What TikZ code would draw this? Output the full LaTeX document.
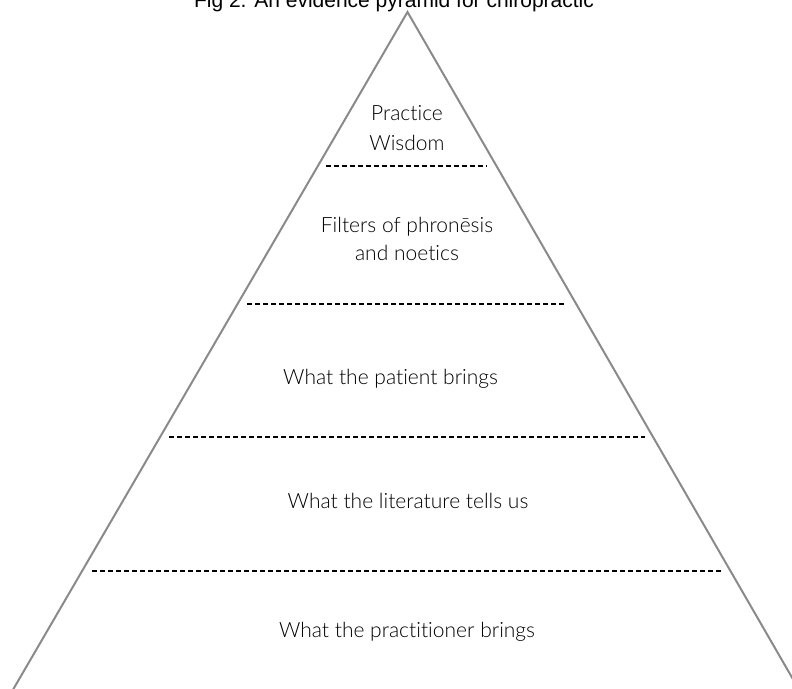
\documentclass[tikz,border=0pt]{standalone}
\usepackage{fontspec}
\setmainfont{Lato}[UprightFont=* Light,Ligatures={NoCommon,NoRare,NoContextual}]
\newfontfamily\titlefont{Liberation Sans}
\definecolor{edgegray}{HTML}{8A8A8C}
\definecolor{txt}{HTML}{000000}
\begin{document}
\begin{tikzpicture}[x=1pt,y=-1pt,
  pyredge/.style={draw=edgegray,line width=2pt},
  divider/.style={draw=black,line width=1.5pt,dash pattern=on 4.5pt off 3.5pt},
  lbl/.style={inner sep=0pt,anchor=base,text=txt,font=\fontsize{21}{24}\selectfont}]
\useasboundingbox (0,0) rectangle (792,688);
\begin{scope}
\clip (0,0) rectangle (792,688);
\coordinate (apex) at (407.5,12);
\coordinate (bl) at (7,700);
\coordinate (br) at (805,700);
\draw[pyredge] (bl) -- (apex) -- (br);
\end{scope}
\node[lbl,font=\titlefont\fontsize{21}{24}\selectfont] (title) at (394,8) {Fig 2. An evidence pyramid for chiropractic};
\node[lbl] (t1a) at (407,120) {Practice};
\node[lbl] (t1b) at (407,150) {Wisdom};
\node[lbl] (t2a) at (407,232) {Filters of phronēsis};
\node[lbl] (t2b) at (407,260) {and noetics};
\node[lbl,anchor=base west] (t3) at (283,384) {What the patient brings};
\node[lbl] (t4) at (408,508) {What the literature tells us};
\node[lbl] (t5) at (407,637) {What the practitioner brings};
\coordinate (d1l) at (326,166); \coordinate (d1r) at (487,166);
\coordinate (d2l) at (247,304); \coordinate (d2r) at (565,304);
\coordinate (d3l) at (169,437); \coordinate (d3r) at (645,437);
\coordinate (d4l) at (92,571); \coordinate (d4r) at (721,571);
\draw[divider] (d1l) -- (d1r);
\draw[divider] (d2l) -- (d2r);
\draw[divider] (d3l) -- (d3r);
\draw[divider] (d4l) -- (d4r);
\end{tikzpicture}
\end{document}
